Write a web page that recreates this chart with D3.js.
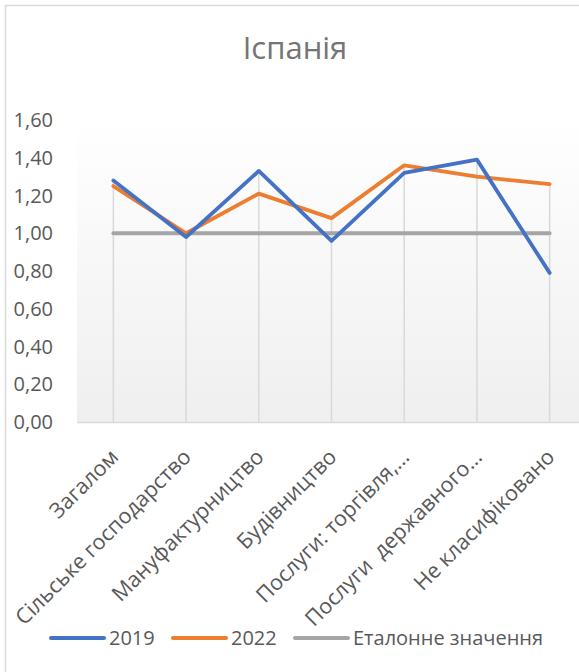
<!DOCTYPE html>
<html>
<head>
<meta charset="utf-8">
<script src="https://cdn.jsdelivr.net/npm/d3@7"></script>
<style>
  html, body { margin: 0; padding: 0; background: #fff; }
  svg { display: block; font-family: "Open Sans", "Noto Sans", sans-serif; }
</style>
</head>
<body>
<svg id="chart" width="579" height="672"></svg>
<script>
const title = "Іспанія";
const categories = ["Загалом", "Сільське господарство", "Мануфактурництво", "Будівництво",
  "Послуги: торгівля,…", "Послуги  державного…", "Не класифіковано"];
const values2019 = [1.28, 0.98, 1.33, 0.96, 1.32, 1.39, 0.79];
const values2022 = [1.25, 1.00, 1.21, 1.08, 1.36, 1.30, 1.26];
const valuesRef = [1.00, 1.00, 1.00, 1.00, 1.00, 1.00, 1.00];
const yTicks = [0, 0.2, 0.4, 0.6, 0.8, 1.0, 1.2, 1.4, 1.6];
const seriesNames = ["2019", "2022", "Еталонне значення"];
const seriesColors = ["#4472C4", "#ED7D31", "#A5A5A5"];

const svg = d3.select("#chart");
const W = 579, H = 672;
const plot = { left: 77, right: 586, top: 120, bottom: 422 };

// Frame
svg.append("path")
  .attr("d", `M5.5,${H} L5.5,5.5 L${W},5.5`)
  .attr("fill", "none").attr("stroke", "#d9d9d9").attr("stroke-width", 1.5);

// Gradient
const defs = svg.append("defs");
const grad = defs.append("linearGradient").attr("id", "bg").attr("x1", 0).attr("y1", 0).attr("x2", 0).attr("y2", 1);
grad.append("stop").attr("offset", "0%").attr("stop-color", "#ffffff");
grad.append("stop").attr("offset", "100%").attr("stop-color", "#efefef");

const x = d3.scalePoint().domain(categories).range([plot.left, plot.right]).padding(0.5);
const y = d3.scaleLinear().domain([0, 1.6]).range([plot.bottom, plot.top]);

svg.append("rect")
  .attr("x", plot.left).attr("y", plot.top)
  .attr("width", W - plot.left).attr("height", plot.bottom - plot.top)
  .attr("fill", "url(#bg)");

// Title
svg.append("text")
  .attr("x", 295).attr("y", 59)
  .attr("text-anchor", "middle")
  .attr("font-size", 31)
  .attr("fill", "#757575")
  .text(title);

// Y axis labels
const fmt = v => v.toFixed(2).replace(".", ",");
svg.append("g").selectAll("text").data(yTicks).join("text")
  .attr("x", 53).attr("y", d => y(d))
  .attr("dy", "0.35em")
  .attr("text-anchor", "end")
  .attr("font-size", 20)
  .attr("fill", "#595959")
  .text(fmt);

// Drop lines
svg.append("g").selectAll("line").data(categories).join("line")
  .attr("x1", d => x(d)).attr("x2", d => x(d))
  .attr("y1", (d, i) => y(Math.max(values2019[i], values2022[i], valuesRef[i])))
  .attr("y2", plot.bottom)
  .attr("stroke", "#d9d9d9").attr("stroke-width", 1.5);

// Axis line
svg.append("line")
  .attr("x1", plot.left).attr("x2", W)
  .attr("y1", plot.bottom + 0.5).attr("y2", plot.bottom + 0.5)
  .attr("stroke", "#d9d9d9").attr("stroke-width", 1.5);

// Category labels
svg.append("g").selectAll("text").data(categories).join("text")
  .attr("transform", d => `translate(${x(d) + 1},453) rotate(-45)`)
  .attr("text-anchor", "end")
  .attr("dy", "0.35em")
  .attr("font-size", 21.5)
  .attr("fill", "#595959")
  .style("white-space", "pre")
  .text(d => d);

// Lines
const line = d3.line().x((d, i) => x(categories[i])).y(d => y(d));
const allSeries = [valuesRef, values2022, values2019];
const allColors = [seriesColors[2], seriesColors[1], seriesColors[0]];
allSeries.forEach((s, k) => {
  svg.append("path").datum(s)
    .attr("d", line)
    .attr("fill", "none")
    .attr("stroke", allColors[k])
    .attr("stroke-width", 3.8)
    .attr("stroke-linecap", "round")
    .attr("stroke-linejoin", "round");
});

// Legend
const legendItems = [
  { name: seriesNames[0], color: seriesColors[0], x: 51 },
  { name: seriesNames[1], color: seriesColors[1], x: 173 },
  { name: seriesNames[2], color: seriesColors[2], x: 295 }
];
const lg = svg.append("g").selectAll("g").data(legendItems).join("g")
  .attr("transform", d => `translate(${d.x},638)`);
lg.append("line").attr("x1", 0).attr("x2", 53).attr("y1", 0).attr("y2", 0)
  .attr("stroke", d => d.color).attr("stroke-width", 4).attr("stroke-linecap", "round");
lg.append("text").attr("x", 58).attr("dy", "0.35em")
  .attr("font-size", 20).attr("fill", "#595959")
  .text(d => d.name);
</script>
</body>
</html>
